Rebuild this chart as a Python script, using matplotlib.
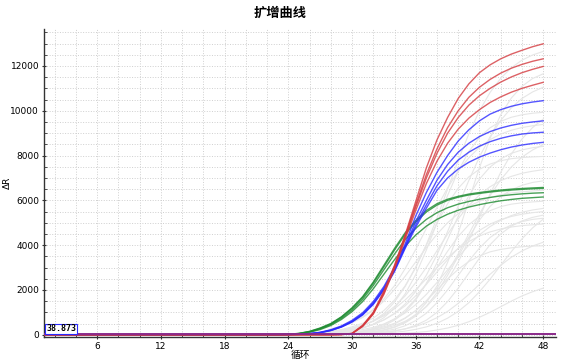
import numpy as np
import matplotlib
matplotlib.use('Agg')
import matplotlib.pyplot as plt
from matplotlib.ticker import MultipleLocator

plt.rcParams['font.family'] = ['DejaVu Sans', 'Noto Sans CJK SC']

# cycles 1..48; coloured curves are given from cycle 24, flat (0) before that
cycles = np.arange(1, 49)
start_col = 24
# grey (background wells) are given from cycle 28
start_grey = 28
threshold = 38.873

red_curves = [
    [0, 0, 0, 0, 0, 10, 60, 420, 1000, 1950, 3100, 4450, 5950, 7450, 8700, 9700, 10550, 11200, 11700, 12050, 12320, 12530, 12700, 12860, 12990],
    [0, 0, 0, 0, 0, 10, 55, 400, 970, 1900, 3050, 4400, 5800, 7150, 8300, 9250, 10000, 10600, 11050, 11400, 11680, 11900, 12070, 12210, 12320],
    [0, 0, 0, 0, 0, 8, 50, 380, 940, 1850, 3000, 4350, 5700, 7000, 8100, 9000, 9700, 10250, 10670, 11000, 11280, 11510, 11700, 11850, 11980],
    [0, 0, 0, 0, 0, 8, 50, 370, 920, 1800, 2950, 4250, 5550, 6750, 7750, 8550, 9180, 9670, 10050, 10370, 10620, 10830, 11000, 11140, 11270],
]
blue_curves = [
    [5, 20, 50, 110, 220, 390, 640, 980, 1480, 2150, 3000, 4050, 5300, 6350, 7250, 8000, 8650, 9150, 9550, 9850, 10050, 10200, 10310, 10390, 10450],
    [5, 18, 45, 100, 200, 360, 600, 930, 1420, 2080, 2920, 3950, 5050, 6000, 6900, 7600, 8150, 8550, 8850, 9070, 9230, 9350, 9440, 9500, 9550],
    [4, 16, 42, 95, 190, 350, 580, 900, 1380, 2030, 2870, 3900, 4900, 5800, 6650, 7300, 7800, 8150, 8420, 8620, 8770, 8880, 8960, 9010, 9040],
    [4, 15, 40, 90, 185, 340, 565, 880, 1350, 2000, 2820, 3850, 4800, 5650, 6450, 7000, 7400, 7700, 7930, 8110, 8260, 8380, 8470, 8540, 8590],
]
green_curves = [
    [20, 60, 150, 300, 500, 800, 1200, 1700, 2350, 3100, 3850, 4550, 5100, 5550, 5850, 6050, 6180, 6280, 6350, 6410, 6460, 6500, 6530, 6555, 6575],
    [18, 55, 140, 285, 480, 780, 1170, 1660, 2300, 3030, 3780, 4480, 5030, 5480, 5790, 6000, 6140, 6240, 6310, 6370, 6420, 6460, 6490, 6515, 6535],
    [15, 50, 130, 260, 450, 730, 1100, 1580, 2200, 2900, 3600, 4250, 4750, 5150, 5450, 5670, 5830, 5950, 6050, 6130, 6200, 6250, 6290, 6320, 6340],
    [10, 40, 110, 230, 410, 680, 1030, 1480, 2050, 2700, 3350, 3950, 4450, 4850, 5150, 5380, 5560, 5700, 5810, 5900, 5980, 6040, 6090, 6120, 6150],
]
grey_curves = [
    [160, 230, 350, 510, 740, 1080, 1550, 2180, 3000, 4030, 5210, 6500, 7790, 8970, 10000, 10820, 11450, 11920, 12260, 12490, 12650],
    [90, 140, 210, 310, 450, 660, 950, 1370, 1930, 2660, 3570, 4610, 5750, 6890, 7940, 8840, 9570, 10130, 10550, 10840, 11050],
    [70, 110, 180, 290, 470, 760, 1190, 1820, 2690, 3780, 5000, 6220, 7310, 8180, 8810, 9240, 9530, 9710, 9820, 9890, 9930],
    [45, 70, 110, 160, 240, 350, 510, 750, 1070, 1510, 2080, 2790, 3610, 4500, 5390, 6210, 6920, 7490, 7930, 8250, 8490],
    [90, 140, 230, 380, 610, 950, 1460, 2150, 3020, 4000, 4980, 5850, 6540, 7050, 7390, 7620, 7770, 7860, 7910, 7940, 7960],
    [15, 30, 50, 80, 130, 200, 330, 530, 830, 1270, 1880, 2650, 3500, 4350, 5120, 5730, 6170, 6470, 6670, 6800, 6870],
    [40, 70, 110, 170, 280, 460, 710, 1090, 1610, 2270, 3000, 3730, 4390, 4910, 5290, 5540, 5720, 5830, 5890, 5930, 5960],
    [70, 100, 160, 230, 330, 480, 690, 970, 1340, 1800, 2330, 2900, 3470, 4000, 4460, 4830, 5110, 5320, 5470, 5570, 5640],
    [5, 10, 20, 40, 60, 100, 160, 260, 420, 650, 1000, 1480, 2080, 2750, 3420, 4020, 4500, 4850, 5080, 5240, 5340],
    [140, 200, 290, 420, 600, 840, 1160, 1550, 2010, 2500, 3000, 3450, 3850, 4160, 4410, 4590, 4720, 4810, 4870, 4910, 4940],
    [15, 25, 35, 55, 80, 120, 180, 260, 370, 540, 760, 1040, 1400, 1800, 2250, 2700, 3100, 3460, 3740, 3960, 4130],
    [20, 30, 50, 80, 130, 220, 350, 560, 910, 1430, 2180, 3230, 4540, 6000, 7460, 8770, 9820, 10570, 11090, 11440, 11650],
    [35, 60, 90, 150, 250, 400, 650, 1010, 1550, 2290, 3210, 4250, 5290, 6210, 6950, 7490, 7850, 8100, 8250, 8350, 8410],
    [250, 370, 540, 770, 1090, 1500, 2020, 2610, 3250, 3890, 4490, 5000, 5410, 5730, 5960, 6130, 6250, 6330, 6380, 6420, 6450],
    [10, 20, 35, 60, 95, 155, 250, 400, 630, 960, 1430, 2000, 2650, 3300, 3870, 4340, 4670, 4900, 5050, 5150, 5200],
    [30, 50, 80, 130, 190, 280, 410, 600, 870, 1250, 1760, 2430, 3250, 4210, 5250, 6290, 7250, 8070, 8740, 9250, 9630],
    [5, 8, 12, 18, 25, 35, 45, 70, 100, 140, 210, 300, 420, 580, 780, 1000, 1250, 1500, 1730, 1920, 2080],
    [140, 200, 290, 430, 620, 890, 1260, 1730, 2330, 3010, 3750, 4490, 5180, 5770, 6240, 6610, 6880, 7070, 7210, 7300, 7370],
    [30, 45, 70, 120, 190, 300, 480, 730, 1080, 1510, 2000, 2490, 2920, 3270, 3520, 3700, 3810, 3880, 3930, 3960, 3970],
    [260, 370, 540, 790, 1130, 1600, 2190, 2950, 3810, 4750, 5690, 6560, 7310, 7900, 8370, 8710, 8960, 9130, 9250, 9330, 9390],
    [10, 15, 25, 35, 50, 75, 110, 160, 240, 350, 510, 740, 1040, 1430, 1920, 2480, 3100, 3710, 4280, 4770, 5160],
    [100, 150, 220, 320, 460, 660, 940, 1290, 1740, 2250, 2800, 3350, 3860, 4310, 4660, 4940, 5140, 5280, 5380, 5450, 5500],
]


def full_curve(vals, start):
    return np.concatenate([np.zeros(start - 1), np.array(vals, dtype=float)])


fig = plt.figure(figsize=(5.61, 3.6), dpi=100)
ax = fig.add_axes([0.0784, 0.064, 0.9126, 0.8554])

for g in grey_curves:
    ax.plot(cycles, full_curve(g, start_grey), color='#e6e6e6', linewidth=0.8, zorder=2)
for g in green_curves:
    ax.plot(cycles, full_curve(g, start_col), color='#1b8a2e', alpha=0.8, linewidth=1.0, zorder=3)
for b in blue_curves:
    ax.plot(cycles, full_curve(b, start_col), color='#2a2aff', alpha=0.8, linewidth=1.0, zorder=4)
for r in red_curves:
    ax.plot(cycles, full_curve(r, start_col), color='#d43a3f', alpha=0.8, linewidth=1.0, zorder=5)

ax.axhline(threshold, color='#8a2a8a', linewidth=1.4, zorder=6)
ax.text(1.2, 60, '%.3f' % threshold, fontsize=6, fontweight='bold',
        family='DejaVu Sans Mono', color='black', va='bottom', ha='left', zorder=7,
        bbox=dict(boxstyle='square,pad=0.1', facecolor='white', edgecolor='#2a2aff', linewidth=0.8))

ax.set_xlim(1, 49.2)
ax.set_ylim(-100, 13650)
ax.xaxis.set_major_locator(MultipleLocator(6))
ax.xaxis.set_minor_locator(MultipleLocator(2))
ax.yaxis.set_major_locator(MultipleLocator(2000))
ax.yaxis.set_minor_locator(MultipleLocator(500))
ax.grid(True, which='both', linestyle=':', color='#cfcfcf', linewidth=0.7, zorder=0)
ax.set_axisbelow(True)

for s in ['top', 'right']:
    ax.spines[s].set_visible(False)
for s in ['left', 'bottom']:
    ax.spines[s].set_color('#333333')
    ax.spines[s].set_linewidth(1.0)

ax.tick_params(which='major', labelsize=6.5, length=3, direction='inout', color='#333333', pad=2)
ax.tick_params(which='minor', length=2, direction='in', color='#333333')

ax.set_xlabel('循环', fontsize=7, family=['Noto Sans CJK SC', 'DejaVu Sans'], labelpad=-1)
ax.set_ylabel('ΔR', fontsize=6.5, labelpad=1)
ax.yaxis.set_label_coords(-0.062, 0.5)
fig.suptitle('扩增曲线', fontsize=9.5, fontweight='bold', y=0.985,
             family=['Noto Sans CJK SC', 'DejaVu Sans'])

fig.savefig('out.png', dpi=100)
